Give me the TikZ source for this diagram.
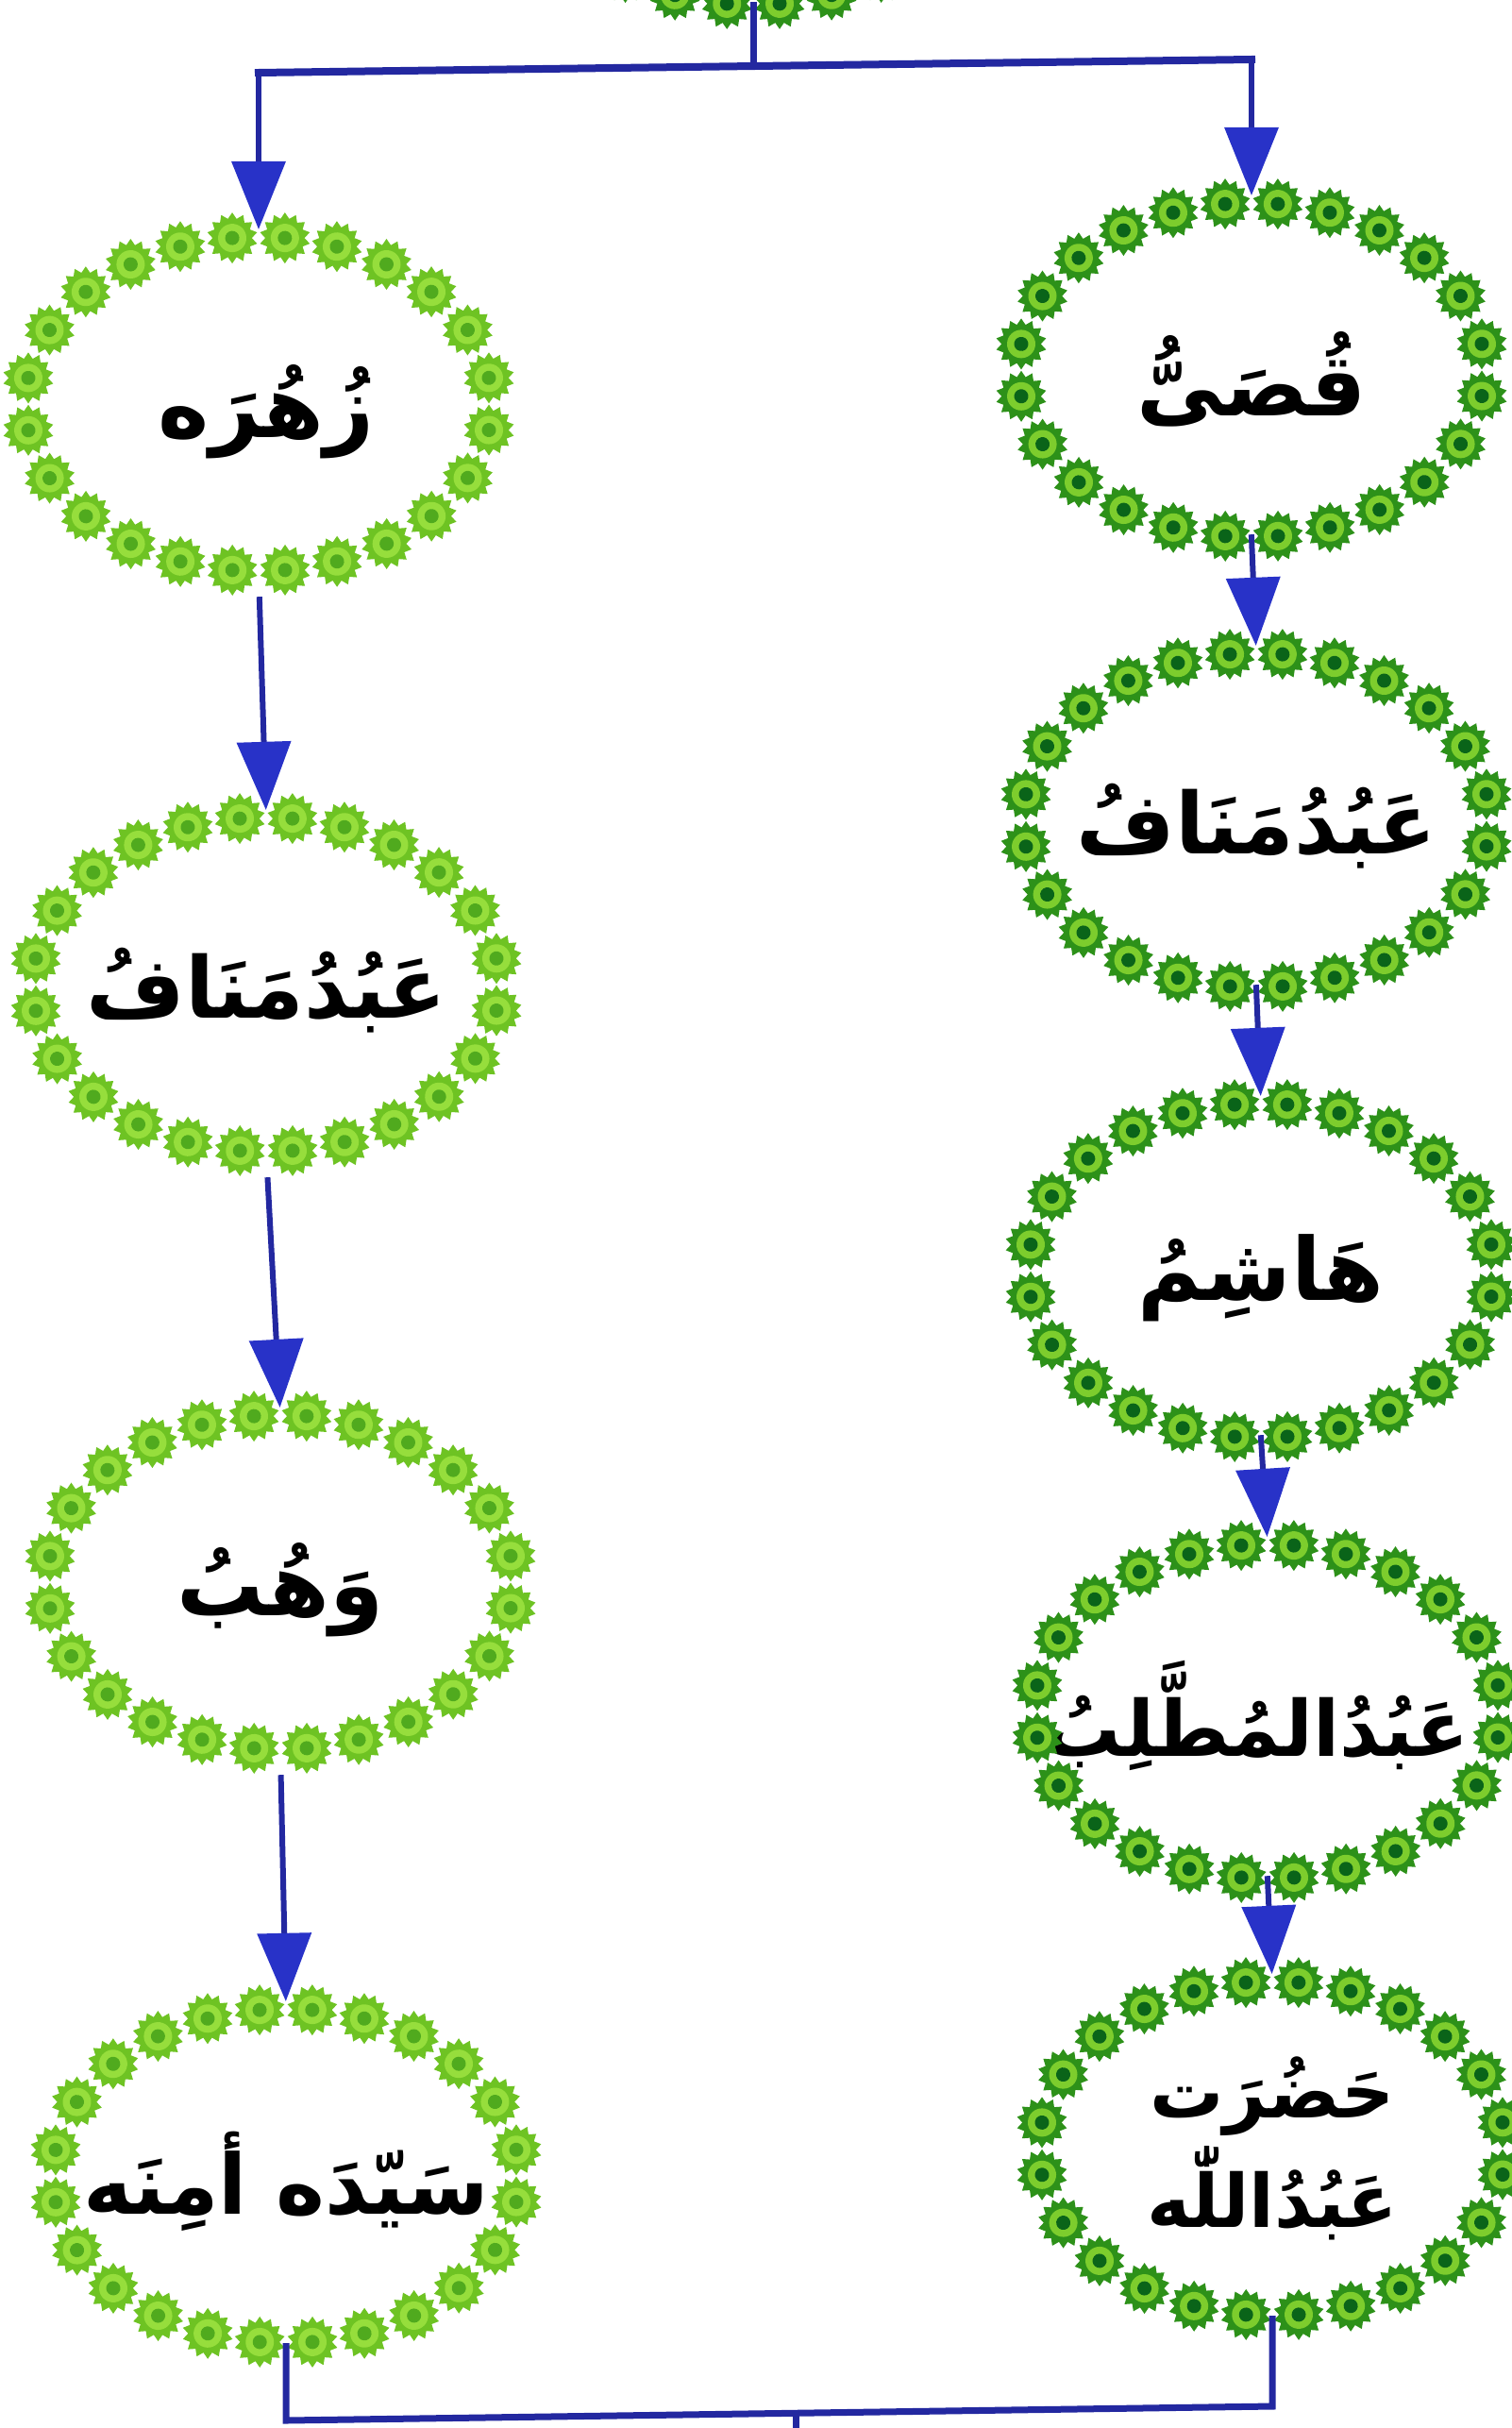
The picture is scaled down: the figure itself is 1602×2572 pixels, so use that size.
\documentclass[tikz,border=0pt]{standalone}
\usepackage{fontspec}
\newfontfamily\urfont[Script=Arabic]{DejaVu Sans}
\TeXXeTstate=1
\usetikzlibrary{shapes.geometric,arrows.meta,decorations.markings}
\definecolor{rdOut}{RGB}{45,145,25}
\definecolor{rdMid}{RGB}{125,205,45}
\definecolor{rdIn}{RGB}{10,100,25}
\definecolor{ldOut}{RGB}{110,195,35}
\definecolor{ldMid}{RGB}{150,222,60}
\definecolor{ldIn}{RGB}{80,170,30}
\definecolor{lineblue}{RGB}{35,40,160}
\definecolor{tipblue}{RGB}{40,50,200}
\newcommand{\ursize}[1]{\urfont\bfseries\fontsize{#1}{#1}\selectfont}
\tikzset{
  ringnode/.style={ellipse, minimum width=494pt, minimum height=354pt, inner sep=0pt, text=black},
  ringdots/.style n args={3}{decorate, decoration={markings,
      mark=between positions 0.0208333 and 0.99 step 0.0416667 with {
        \node[star, star points=14, star point ratio=1.3, minimum size=54pt, inner sep=0pt, fill=#1] {};
        \fill[#2] (0,0) circle (15pt);
        \fill[#3] (0,0) circle (7.5pt);}}},
  conn/.style={draw=lineblue, line width=7pt, line cap=rect},
  hconn/.style={draw=lineblue, line width=8pt, line cap=rect},
  arr/.style={draw=lineblue, line width=6pt, line cap=rect, shorten >=8pt,
      -{Triangle[length=72pt,width=58pt,line width=0pt,color=tipblue,fill=tipblue]}},
  label/.style={inner sep=0pt, text=black},
}
\begin{document}
\begin{tikzpicture}[x=1pt,y=-1pt]
\useasboundingbox (0,0) rectangle (1602,2572);
\clip (0,0) rectangle (1602,2572);
\fill[white] (0,0) rectangle (1602,2572);

% nodes (dot rings)
\node[ringnode] (T)  at (798,-172) {};
\node[ringnode] (R1) at (1326,392)  {};
\node[ringnode] (R2) at (1331,869)  {};
\node[ringnode] (R3) at (1336,1346) {};
\node[ringnode] (R4) at (1343,1813) {};
\node[ringnode] (R5) at (1348,2276) {};
\node[ringnode] (L1) at (274,428)  {};
\node[ringnode] (L2) at (282,1043) {};
\node[ringnode] (L3) at (297,1676) {};
\node[ringnode] (L4) at (303,2305) {};

% labels
\node[label] (tR1) at ([yshift=-10pt]R1.center) {\ursize{92}\beginR قُصَیُّ\endR};
\node[label] (tR2) at ([yshift=-6pt]R2.center) {\ursize{90}\beginR عَبُدُمَنَافُ\endR};
\node[label] (tR3) at ([yshift=-8pt]R3.center) {\ursize{92}\beginR هَاشِمُ\endR};
\node[label] (tR4) at ([xshift=-12pt,yshift=-4pt]R4.center) {\ursize{82}\beginR عَبُدُالمُطَّلِبُ\endR};
\node[label, align=center] (tR5) at (R5.center)
   {\ursize{78}\beginR حَضُرَت\endR\\[10pt]\ursize{78}\beginR عَبُدُاللّٰه\endR};
\node[label] (tL1) at ([xshift=8pt,yshift=-8pt]L1.center) {\ursize{92}\beginR زُهُرَه\endR};
\node[label] (tL2) at ([yshift=-6pt]L2.center) {\ursize{90}\beginR عَبُدُمَنَافُ\endR};
\node[label] (tL3) at ([yshift=-8pt]L3.center) {\ursize{92}\beginR وَهُبُ\endR};
\node[label] (tL4) at ([yshift=-6pt]L4.center) {\ursize{88}\beginR سَیّدَه أمِنَه\endR};

% dot rings
\foreach \n in {T,R1,R2,R3,R4,R5}
  \path[ringdots={rdOut}{rdMid}{rdIn}] (\n.center) ellipse [x radius=247pt, y radius=177pt];
\foreach \n in {L1,L2,L3,L4}
  \path[ringdots={ldOut}{ldMid}{ldIn}] (\n.center) ellipse [x radius=247pt, y radius=177pt];

% top connectors
\coordinate (J)  at (798,70);
\coordinate (HL) at (274,77);
\coordinate (HR) at (1326,63);
\draw[conn] (T.south) -- (J);
\draw[hconn] (HL) -- (HR);
\draw[arr] (HL) -- (L1.north);
\draw[arr] (HR) -- (R1.north);

% chains
\draw[arr] (R1.south) -- (R2.north);
\draw[arr] (R2.south) -- (R3.north);
\draw[arr] (R3.south) -- (R4.north);
\draw[arr] (R4.south) -- (R5.north);
\draw[arr, shorten <=30pt] (L1.south) -- (L2.north);
\draw[arr, shorten <=30pt] (L2.south) -- (L3.north);
\draw[arr, shorten <=30pt] (L3.south) -- (L4.north);

% bottom connectors
\coordinate (BL) at (303,2564);
\coordinate (BR) at (1348,2549);
\coordinate (BM) at (843,2556);
\coordinate (BE) at (843,2600);
\draw[conn, line cap=butt] (L4.south) -- (BL) -- (BR) -- (R5.south);
\draw[conn] (BM) -- (BE);
\end{tikzpicture}
\end{document}
